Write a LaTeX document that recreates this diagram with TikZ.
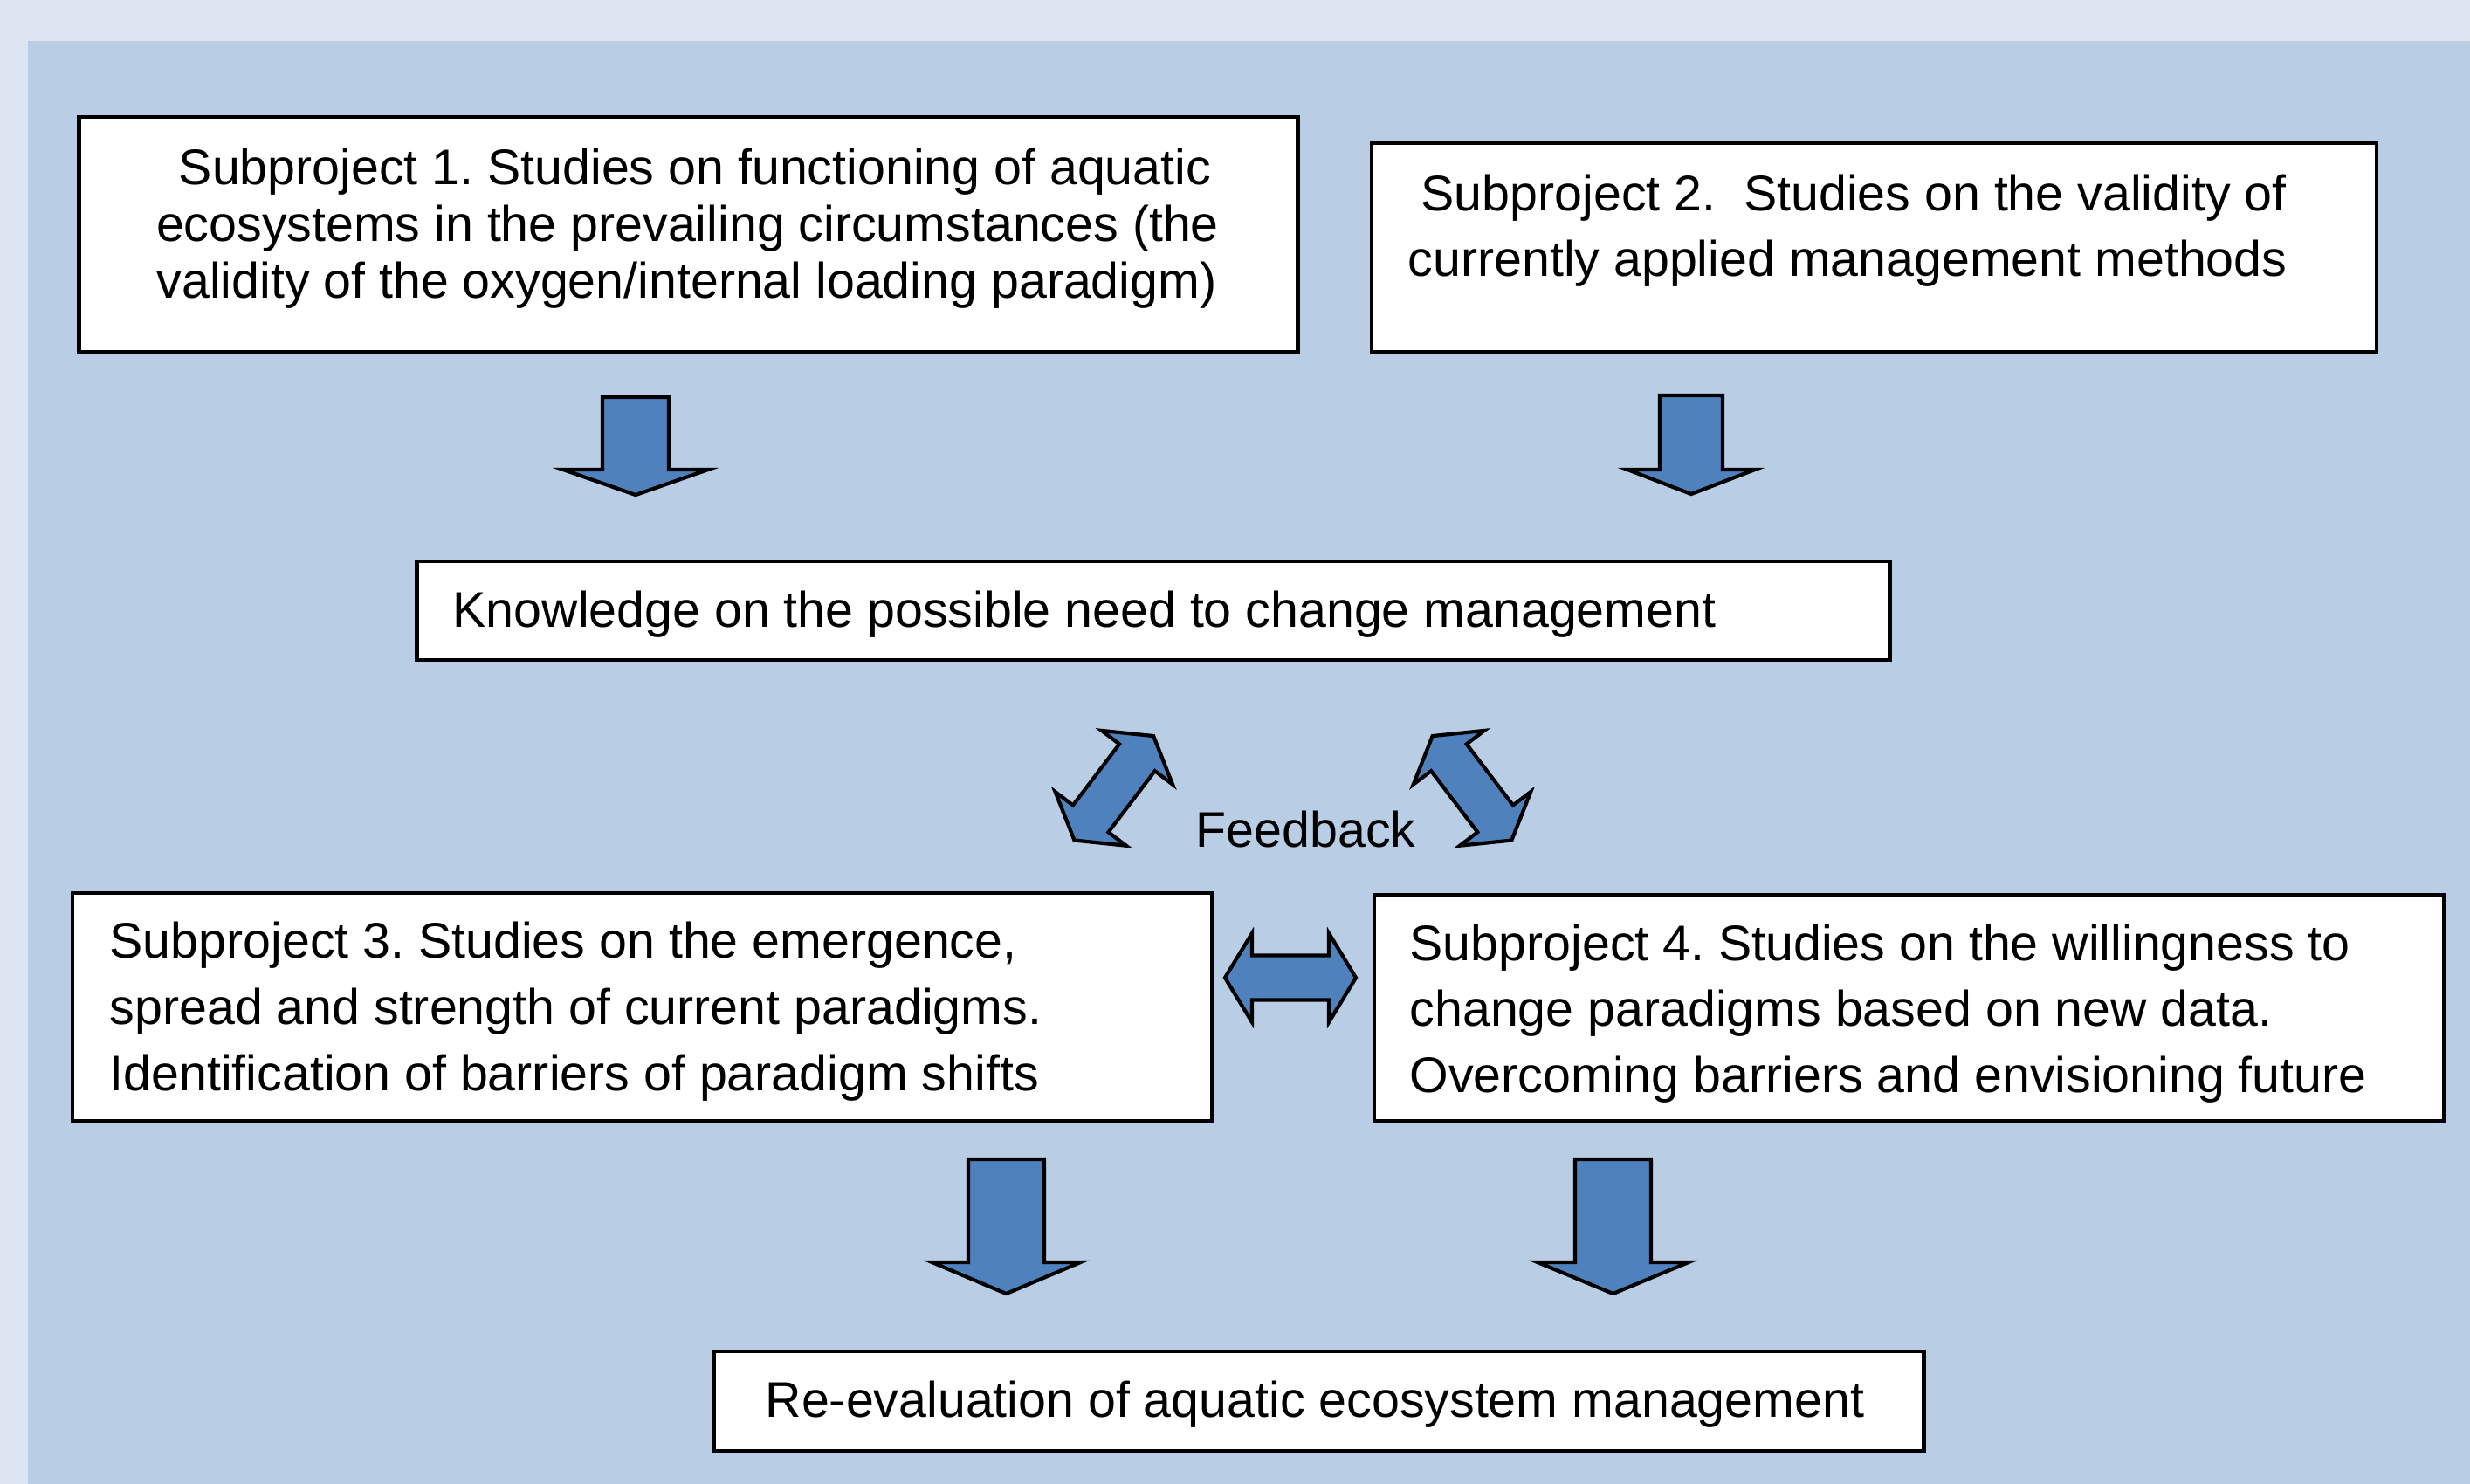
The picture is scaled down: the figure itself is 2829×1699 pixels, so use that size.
\documentclass[tikz,border=0pt]{standalone}
\usepackage{fontspec}
\setmainfont{Liberation Sans}
\definecolor{pagebg}{HTML}{DCE5F1}
\definecolor{panelbg}{HTML}{B9CDE4}
\definecolor{arrowblue}{HTML}{4F81BD}

% block arrow with two heads: centre x, centre y, angle
\newcommand\dblblock[3]{%
  \begin{scope}[shift={(#1,#2)}, rotate=#3]
    \draw[blockarrow] (-75,0) -- (-44,51) -- (-44,25.5) -- (44,25.5) -- (44,51)
      -- (75,0) -- (44,-51) -- (44,-25.5) -- (-44,-25.5) -- (-44,-51) -- cycle;
  \end{scope}}
% downward block arrow: centre x, top, shaft half width, head base y, head half width, tip y
\newcommand\downblock[6]{%
  \draw[blockarrow] ({#1-#3},#2) -- ({#1+#3},#2) -- ({#1+#3},#4) -- ({#1+#5},#4)
    -- (#1,#6) -- ({#1-#5},#4) -- ({#1-#3},#4) -- cycle;}

\begin{document}
\begin{tikzpicture}[x=0.01cm, y=-0.01cm,
  box/.style={draw=black, line width=1.2pt, fill=white, rectangle, inner sep=0pt},
  txt/.style={inner sep=0pt, font=\fontsize{16.3pt}{19pt}\selectfont\frenchspacing},
  blockarrow/.style={draw=black, fill=arrowblue, line width=1.2pt, line join=miter},
]
\useasboundingbox (0,0) rectangle (2829,1699);

% background panels
\fill[pagebg] (-10,-10) rectangle (2840,1710);
\fill[panelbg] (31.5,46.7) rectangle (2840,1710);

% boxes
\node[box, minimum width=13.95cm, minimum height=2.69cm] (sp1) at (788.5,268.5) {};
\node[box, minimum width=11.51cm, minimum height=2.39cm] (sp2) at (2146.5,283.5) {};
\node[box, minimum width=16.86cm, minimum height=1.13cm] (know) at (1321,699.5) {};
\node[box, minimum width=13.05cm, minimum height=2.61cm] (sp3) at (735.5,1153.5) {};
\node[box, minimum width=12.25cm, minimum height=2.59cm] (sp4) at (2186.5,1154.5) {};
\node[box, minimum width=13.85cm, minimum height=1.14cm] (reeval) at (1510.5,1605) {};

% texts
\node[txt, anchor=base] (sp1a) at (796,211.7) {Subproject 1. Studies on functioning of aquatic};
\node[txt, anchor=base] (sp1b) at (787.5,276.7) {ecosystems in the prevailing circumstances (the};
\node[txt, anchor=base] (sp1c) at (786.5,341.7) {validity of the oxygen/internal loading paradigm)};

\node[txt, anchor=base west] (sp2a) at (1627,241.7) {Subproject 2.~~Studies on the validity of};
\node[txt, anchor=base west] (sp2b) at (1612,316.7) {currently applied management methods};

\node[txt, anchor=base west] (knowt) at (518,718) {Knowledge on the possible need to change management};

\node[txt, anchor=base west] (sp3a) at (125,1097.7) {Subproject 3. Studies on the emergence,};
\node[txt, anchor=base west] (sp3b) at (125,1173.3) {spread and strength of current paradigms.};
\node[txt, anchor=base west] (sp3c) at (125,1249.3) {Identification of barriers of paradigm shifts};

\node[txt, anchor=base west] (sp4a) at (1614,1100) {Subproject 4. Studies on the willingness to};
\node[txt, anchor=base west] (sp4b) at (1614,1175.7) {change paradigms based on new data.};
\node[txt, anchor=base west] (sp4c) at (1614,1251) {Overcoming barriers and envisioning future};

\node[txt, anchor=base west] (reevalt) at (876,1623.3) {Re-evaluation of aquatic ecosystem management};

\node[txt, anchor=base west] (fb) at (1369,970) {Feedback};

% block arrows
\downblock{728}{455}{38}{538}{83}{567}
\downblock{1937}{453}{36}{538}{73}{566}
\downblock{1152.5}{1328}{43.5}{1446}{85}{1482}
\downblock{1847.5}{1328}{43.5}{1446}{86.5}{1482}

\dblblock{1275.8}{902.8}{52.8}
\dblblock{1686}{902.8}{127.2}
\dblblock{1478}{1120}{0}
\end{tikzpicture}
\end{document}
